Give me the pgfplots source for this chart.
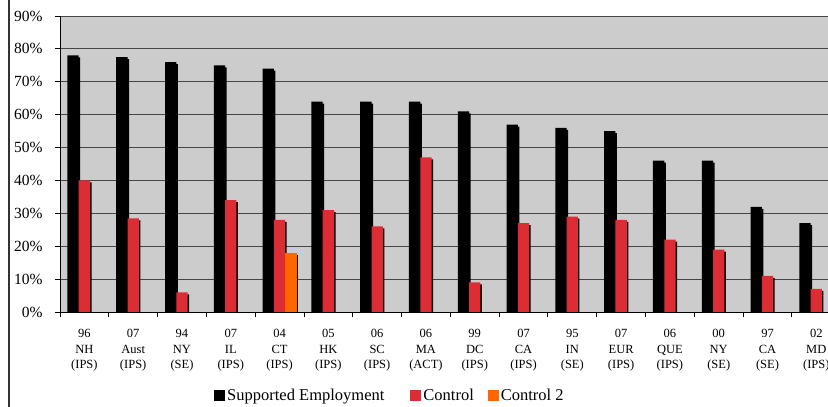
\documentclass[border=0pt]{standalone}
\usepackage{fontspec}
\setmainfont{Liberation Serif}
\usepackage{pgfplots}
\pgfplotsset{compat=1.18}
\usetikzlibrary{shadows}
\definecolor{bgg}{RGB}{204,204,204}
\definecolor{ctrl}{RGB}{221,45,52}
\definecolor{ctrltwo}{RGB}{255,102,0}
\definecolor{gridc}{RGB}{70,70,70}
\begin{document}
\begin{tikzpicture}[x=1pt,y=1pt]
\useasboundingbox (0,0) rectangle (828,407);
\clip (0,0) rectangle (828,407);
\fill[white] (0,0) rectangle (828,407);
\draw[black!80, line width=1.3pt] (9,-1) -- (9,408);
\begin{axis}[
  at={(60pt,95pt)}, anchor=south west,
  scale only axis, width=768pt, height=296pt,
  xmin=-0.5, xmax=15.24, ymin=0, ymax=90,
  axis background/.style={fill=bgg},
  axis x line*=bottom, axis y line*=left,
  axis line style={black, line width=0.9pt},
  ybar=0pt, bar width=11.3pt,
  ytick={0,10,...,90},
  yticklabel={\pgfmathprintnumber{\tick}\%},
  /pgf/number format/assume math mode=true,
  yticklabel style={font=\fontsize{15.5}{18}\selectfont, xshift=-9pt},
  ymajorgrids, major grid style={gridc, line width=0.9pt},
  tick align=outside, major tick length=5pt, minor tick length=5pt,
  tick style={black, line width=0.9pt},
  xtick={0,...,15},
  major x tick style={draw=none},
  minor xtick={-0.5,0.5,...,14.5},
  xticklabels={{96\\NH\\(IPS)},{07\\Aust\\(IPS)},{94\\NY\\(SE)},{07\\IL\\(IPS)},{04\\CT\\(IPS)},{05\\HK\\(IPS)},{06\\SC\\(IPS)},{06\\MA\\(ACT)},{99\\DC\\(IPS)},{07\\CA\\(IPS)},{95\\IN\\(SE)},{07\\EUR\\(IPS)},{06\\QUE\\(IPS)},{00\\NY\\(SE)},{97\\CA\\(SE)},{02\\MD\\(IPS)}},
  xticklabel style={font=\fontsize{12.5}{15.5}\selectfont, align=center, yshift=-9pt},
  legend image code/.code={\fill[#1] (0pt,-5.5pt) rectangle (11pt,5.5pt);},
  legend style={at={(axis description cs:0.4296,-0.282)}, anchor=center, draw=none, fill=none,
    font=\fontsize{16.5}{19}\selectfont, legend columns=-1,
    /tikz/every even column/.append style={column sep=12pt}},
  every axis plot/.append style={draw=none},
]
\addplot[forget plot, bar shift=-11.3pt, fill=black, drop shadow={shadow xshift=1.5pt, shadow yshift=-2pt, fill=black, opacity=1}]
  coordinates {(0,78) (1,77.5) (2,76) (3,75) (4,74) (5,64) (6,64) (7,64) (8,61) (9,57) (10,56) (11,55) (12,46) (13,46) (14,32) (15,27)};
\addplot[forget plot, bar shift=0pt, fill=ctrl, drop shadow={shadow xshift=1.5pt, shadow yshift=-2pt, fill=black, opacity=1}]
  coordinates {(0,40) (1,28.5) (2,6) (3,34) (4,28) (5,31) (6,26) (7,47) (8,9) (9,27) (10,29) (11,28) (12,22) (13,19) (14,11) (15,7)};
\addplot[forget plot, bar shift=11.3pt, fill=ctrltwo, drop shadow={shadow xshift=1.5pt, shadow yshift=-2pt, fill=black, opacity=1}]
  coordinates {(4,18)};
\addlegendimage{fill=black, draw=none}
\addlegendentry{Supported Employment\hspace*{12pt}\mbox{}}
\addlegendimage{fill=ctrl, draw=none}
\addlegendentry{Control}
\addlegendimage{fill=ctrltwo, draw=none}
\addlegendentry{Control 2}
\end{axis}
\end{tikzpicture}
\end{document}
